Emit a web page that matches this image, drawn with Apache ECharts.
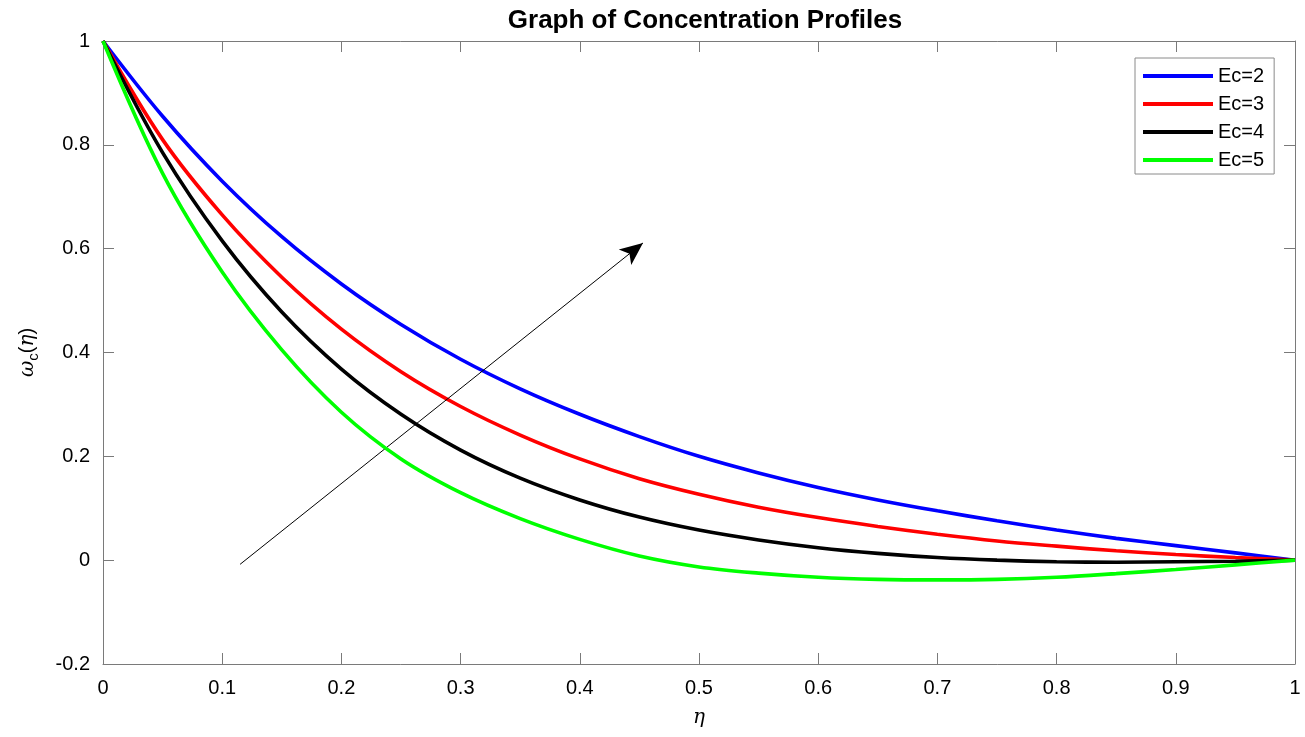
<!DOCTYPE html>
<html>
<head>
<meta charset="utf-8">
<script src="https://cdn.jsdelivr.net/npm/echarts@6/dist/echarts.min.js"></script>
<style>
html,body{margin:0;padding:0;background:#fff;}
#c{width:1305px;height:737px;}
</style>
</head>
<body>
<div id="c"></div>
<script>
// eta values (x axis)
var eta = [0, 0.05, 0.1, 0.15, 0.2, 0.25, 0.3, 0.35, 0.4, 0.45, 0.5, 0.55, 0.6, 0.65, 0.7, 0.75, 0.8, 0.85, 0.9, 0.95, 1];
var ec2 = [1, 0.855, 0.73, 0.623, 0.532, 0.454, 0.387, 0.33, 0.281, 0.238, 0.2, 0.168, 0.14, 0.116, 0.095, 0.076, 0.058, 0.042, 0.028, 0.014, 0];
var ec3 = [1, 0.81, 0.665, 0.545, 0.445, 0.363, 0.296, 0.241, 0.195, 0.157, 0.127, 0.102, 0.082, 0.065, 0.05, 0.037, 0.027, 0.018, 0.011, 0.005, 0];
var ec4 = [1, 0.785, 0.615, 0.478, 0.368, 0.281, 0.212, 0.158, 0.116, 0.083, 0.058, 0.039, 0.024, 0.013, 0.005, 0.0, -0.003, -0.004, -0.003, -0.002, 0];
var ec5 = [1, 0.745, 0.555, 0.405, 0.285, 0.195, 0.13, 0.08, 0.04, 0.008, -0.013, -0.025, -0.033, -0.037, -0.038, -0.037, -0.033, -0.026, -0.018, -0.009, 0];
var seriesNames = ['Ec=2', 'Ec=3', 'Ec=4', 'Ec=5'];
var seriesColors = ['#0000ff', '#ff0000', '#000000', '#00ff00'];
var xTicks = [0, 0.1, 0.2, 0.3, 0.4, 0.5, 0.6, 0.7, 0.8, 0.9, 1];
var yTicks = [-0.2, 0, 0.2, 0.4, 0.6, 0.8, 1];
// arrow annotation (data coordinates): start, end
var arrowStart = [0.115, -0.008];
var arrowEnd = [0.453, 0.611];

function pairs(ys){ return eta.map(function(x,i){ return [x, ys[i]]; }); }
var allY = [ec2, ec3, ec4, ec5];

var FONT = 'Liberation Sans, Arial, Helvetica, sans-serif';
var AXC = '#7a7a7a';

var series = allY.map(function(ys, k){
  return {
    name: seriesNames[k],
    type: 'line',
    data: pairs(ys),
    smooth: 0.35,
    symbol: 'none',
    lineStyle: {width: 3.6, color: seriesColors[k]},
    itemStyle: {color: seriesColors[k]},
    silent: true,
    z: 3 + k
  };
});
series.push({
  name: 'arrow',
  type: 'line',
  data: [],
  symbol: 'none',
  silent: true,
  z: 10,
  markLine: {
    silent: true,
    symbol: ['none', 'arrow'],
    symbolSize: [15, 23],
    label: {show: false},
    lineStyle: {color: '#000', width: 1, type: 'solid'},
    emphasis: {disabled: true},
    animation: false,
    data: [[{coord: arrowStart}, {coord: arrowEnd}]]
  }
});

function axisCommon(extra){
  var base = {
    axisLine: {show: true, onZero: false, lineStyle: {color: AXC, width: 1}},
    axisTick: {show: true, inside: true, length: 11, lineStyle: {color: AXC}},
    splitLine: {show: false}
  };
  for (var k in extra) base[k] = extra[k];
  return base;
}

var chart = echarts.init(document.getElementById('c'), null, {renderer: 'canvas'});
chart.setOption({
  animation: false,
  backgroundColor: '#fff',
  title: {
    text: 'Graph of Concentration Profiles',
    left: 700, top: 3, textAlign: 'center',
    textStyle: {fontFamily: FONT, fontSize: 26, fontWeight: 'bold', color: '#000'}
  },
  legend: {
    data: seriesNames,
    orient: 'vertical',
    left: 1135, top: 58,
    icon: 'rect',
    itemWidth: 70, itemHeight: 4, itemGap: 8,
    padding: [8, 10, 4, 8],
    borderColor: '#8a8a8a', borderWidth: 1,
    backgroundColor: '#fff',
    textStyle: {fontFamily: FONT, fontSize: 20, color: '#000'},
    selectedMode: false,
    z: 20
  },
  grid: {left: 103, right: 10, top: 41, bottom: 73, containLabel: false},
  xAxis: [axisCommon({
    type: 'value', min: 0, max: 1, interval: 0.1,
    name: '\u03b7', nameLocation: 'middle', nameGap: 44,
    nameTextStyle: {fontFamily: 'DejaVu Serif, Liberation Serif, serif', fontStyle: 'italic', fontSize: 20, color: '#000'},
    axisLabel: {fontFamily: FONT, fontSize: 20, color: '#000', margin: 14,
      formatter: function(v){ return String(Math.round(v*10)/10); }}
  }), axisCommon({
    type: 'value', min: 0, max: 1, interval: 0.1, position: 'top',
    axisLabel: {show: false}
  })],
  yAxis: [axisCommon({
    type: 'value', min: -0.2, max: 1, interval: 0.2,
    name: '{i|\u03c9}{s|c}{n|(}{i|\u03b7}{n|)}', nameLocation: 'middle', nameGap: 62, nameRotate: 90,
    nameTextStyle: {
      color: '#000', fontSize: 20,
      rich: {
        i: {fontFamily: 'DejaVu Serif, Liberation Serif, serif', fontStyle: 'italic', fontSize: 20, color: '#000'},
        n: {fontFamily: FONT, fontSize: 20, color: '#000'},
        s: {fontFamily: FONT, fontSize: 15, color: '#000', padding: [12, 0, 0, 0]}
      }
    },
    axisLabel: {fontFamily: FONT, fontSize: 20, color: '#000', margin: 13,
      formatter: function(v){ return String(Math.round(v*10)/10); }}
  }), axisCommon({
    type: 'value', min: -0.2, max: 1, interval: 0.2, position: 'right',
    axisLabel: {show: false}
  })],
  series: series
});
</script>
</body>
</html>
